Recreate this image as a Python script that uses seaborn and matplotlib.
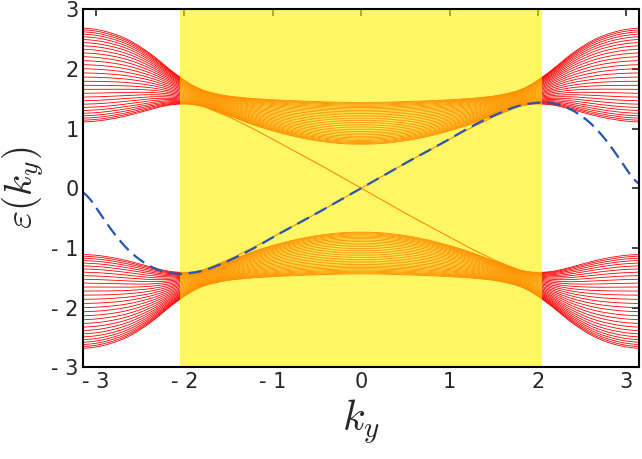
import numpy as np
import matplotlib
matplotlib.use("Agg")
import matplotlib.pyplot as plt
import seaborn as sns

sns.set_style("white")
plt.rcParams['font.family'] = ['DejaVu Sans']
plt.rcParams['mathtext.fontset'] = 'cm'

# envelope of the upper bulk band, mirrored for lower band
ky_env = [-3.1416, -2.8, -2.5, -2.2, -2.0, -1.7, -1.4, -1.0, -0.5, 0.0,
          0.5, 1.0, 1.4, 1.7, 2.0, 2.2, 2.5, 2.8, 3.1416]
inner = [1.1, 1.15, 1.27, 1.4, 1.45, 1.35, 1.15, 0.95, 0.78, 0.72,
         0.78, 0.95, 1.15, 1.35, 1.45, 1.4, 1.27, 1.15, 1.1]
outer = [2.7, 2.62, 2.4, 2.05, 1.75, 1.58, 1.52, 1.48, 1.45, 1.43,
         1.45, 1.48, 1.52, 1.58, 1.75, 2.05, 2.4, 2.62, 2.7]
n_bands = 30

ky_edge = [-2.05, -1.8, -1.5, -1.2, -1.0, -0.5, 0.0, 0.5, 1.0, 1.2, 1.5, 1.8, 2.05]
e_edge = [-1.45, -1.38, -1.2, -0.98, -0.82, -0.42, 0.0, 0.42, 0.82, 0.98, 1.2, 1.38, 1.45]

ky_dash = [-3.1416, -2.9, -2.7, -2.5, -2.3, -2.1, -1.8, -1.5, -1.2, -1.0, -0.5, 0.0,
           0.5, 1.0, 1.2, 1.5, 1.8, 2.1, 2.3, 2.5, 2.7, 2.9, 3.1416]
e_dash = [0.0, -0.55, -0.95, -1.22, -1.38, -1.45, -1.4, -1.22, -1.0, -0.82, -0.42, 0.0,
          0.42, 0.82, 1.0, 1.22, 1.4, 1.45, 1.38, 1.22, 0.95, 0.55, 0.0]

def smooth(y, w=25):
    pad = np.pad(y, w, mode='edge')
    ker = np.ones(2 * w + 1) / (2 * w + 1)
    return np.convolve(pad, ker, mode='same')[w:-w]

fig, ax = plt.subplots(figsize=(6.42, 4.59), dpi=100)

k = np.linspace(-np.pi, np.pi, 600)
inn = smooth(np.interp(k, ky_env, inner))
out = smooth(np.interp(k, ky_env, outer))
for n in range(n_bands):
    t = n / (n_bands - 1)
    f = 0.5 * t + 0.5 * (1 - np.cos(np.pi * t)) / 2
    e = inn + (out - inn) * f
    ax.plot(k, e, color='red', lw=0.6, zorder=1)
    ax.plot(k, -e, color='red', lw=0.6, zorder=1)
ke = np.linspace(-2.05, 2.05, 300)
ee = np.interp(ke, ky_edge, e_edge)
ax.plot(ke, ee, color='red', lw=0.8, zorder=1)
ax.plot(ke, -ee, color='red', lw=0.8, zorder=1)
ax.axvspan(-2.05, 2.05, color='#fff000', alpha=0.6, lw=0, zorder=2)
kd = np.linspace(-np.pi, np.pi, 400)
ax.plot(kd, smooth(np.interp(kd, ky_dash, e_dash), 8), color='#2855b0', lw=1.6,
        ls=(0, (6, 3)), zorder=3)

ax.set_xlim(-np.pi, np.pi)
ax.set_ylim(-3, 3)
ticks = [-3, -2, -1, 0, 1, 2, 3]
lab = ['- 3', '- 2', '- 1', '0', '1', '2', '3']
ax.set_xticks(ticks, lab, fontsize=15)
ax.set_yticks(ticks, lab, fontsize=15)
ax.tick_params(direction='in', length=5, width=1.2, top=True, right=True)
for s in ax.spines.values():
    s.set_linewidth(1.5)
    s.set_color('black')
    s.set_zorder(5)
ax.set_xlabel(r'$k_y$', fontsize=30)
ax.set_ylabel(r'$\varepsilon(k_y)$', fontsize=28)
plt.subplots_adjust(left=0.13, right=0.995, top=0.98, bottom=0.2)
fig.savefig('out.png', dpi=100)
